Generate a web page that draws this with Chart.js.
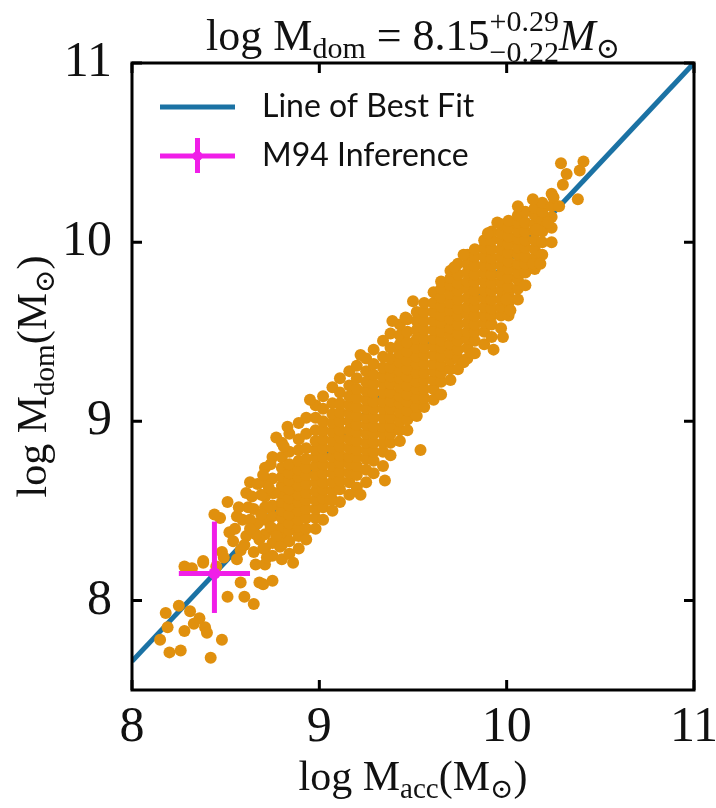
<!DOCTYPE html>
<html>
<head>
<meta charset="utf-8">
<script src="https://cdn.jsdelivr.net/npm/chart.js@4/dist/chart.umd.min.js"></script>
<style>
  html, body { margin: 0; padding: 0; background: #fff; }
  #wrap { width: 716px; height: 808px; position: relative; }
</style>
</head>
<body>
<div id="wrap"><canvas id="chart"></canvas></div>
<script>
// axis ranges and ticks
const xRange = [8, 11];
const yRange = [7.5, 11];
const xTickValues = [8, 9, 10, 11];
const yTickValues = [8, 9, 10, 11];

// line of best fit (two end points)
const fitAcc = [8, 11];
const fitDom = [7.66, 11.0];

// M94 inference with asymmetric errors
const m94Acc = 8.44;
const m94Dom = 8.15;
const m94AccErr = [0.19, 0.19];
const m94DomErr = [0.22, 0.29];

// simulated galaxies: dense band, read column by column (log M_acc, [log M_dom ...])
const cloudColumns = [
  [8.71, [8.20, 8.29, 8.37, 8.45, 8.52, 8.58, 8.66, 8.74]],
  [8.75, [8.25, 8.32, 8.40, 8.47, 8.53, 8.60, 8.68, 8.80]],
  [8.80, [8.23, 8.31, 8.36, 8.41, 8.46, 8.50, 8.55, 8.60, 8.64, 8.69, 8.74, 8.80, 8.88]],
  [8.84, [8.26, 8.33, 8.39, 8.43, 8.48, 8.53, 8.57, 8.62, 8.67, 8.71, 8.76, 8.83, 8.93]],
  [8.89, [8.29, 8.36, 8.41, 8.45, 8.50, 8.55, 8.59, 8.64, 8.69, 8.73, 8.78, 8.84, 8.90, 8.99]],
  [8.93, [8.34, 8.40, 8.46, 8.51, 8.56, 8.60, 8.65, 8.70, 8.74, 8.79, 8.85, 8.93, 9.02]],
  [8.98, [8.40, 8.46, 8.51, 8.56, 8.61, 8.66, 8.70, 8.75, 8.80, 8.84, 8.89, 8.95, 9.02, 9.09]],
  [9.02, [8.45, 8.52, 8.57, 8.62, 8.66, 8.71, 8.76, 8.80, 8.85, 8.90, 8.95, 9.00, 9.07, 9.14]],
  [9.07, [8.50, 8.56, 8.61, 8.66, 8.71, 8.75, 8.80, 8.85, 8.89, 8.94, 8.99, 9.04, 9.10, 9.19]],
  [9.11, [8.55, 8.62, 8.67, 8.72, 8.77, 8.81, 8.86, 8.91, 8.95, 9.00, 9.05, 9.10, 9.16, 9.24]],
  [9.16, [8.59, 8.66, 8.71, 8.76, 8.80, 8.85, 8.90, 8.95, 9.00, 9.04, 9.09, 9.14, 9.20, 9.28]],
  [9.20, [8.63, 8.70, 8.75, 8.80, 8.84, 8.89, 8.94, 8.98, 9.03, 9.08, 9.13, 9.18, 9.24, 9.31]],
  [9.25, [8.66, 8.73, 8.79, 8.84, 8.88, 8.93, 8.98, 9.02, 9.07, 9.12, 9.17, 9.22, 9.28, 9.35]],
  [9.29, [8.71, 8.78, 8.83, 8.88, 8.93, 8.97, 9.02, 9.07, 9.11, 9.16, 9.21, 9.26, 9.32, 9.40]],
  [9.34, [8.75, 8.83, 8.88, 8.93, 8.97, 9.02, 9.07, 9.11, 9.16, 9.21, 9.25, 9.30, 9.36, 9.45]],
  [9.38, [8.81, 8.88, 8.93, 8.97, 9.02, 9.07, 9.11, 9.16, 9.21, 9.25, 9.30, 9.35, 9.41, 9.49]],
  [9.43, [8.89, 8.95, 9.00, 9.05, 9.10, 9.14, 9.19, 9.24, 9.28, 9.33, 9.38, 9.43, 9.48, 9.54]],
  [9.47, [8.95, 9.01, 9.06, 9.11, 9.15, 9.20, 9.25, 9.29, 9.34, 9.39, 9.44, 9.50, 9.57]],
  [9.52, [9.03, 9.08, 9.13, 9.18, 9.22, 9.27, 9.32, 9.36, 9.41, 9.46, 9.51, 9.56, 9.61]],
  [9.56, [9.08, 9.13, 9.18, 9.23, 9.27, 9.32, 9.37, 9.41, 9.46, 9.51, 9.56, 9.61, 9.66]],
  [9.61, [9.12, 9.18, 9.23, 9.28, 9.32, 9.37, 9.42, 9.46, 9.51, 9.56, 9.61, 9.66, 9.72]],
  [9.65, [9.15, 9.22, 9.27, 9.31, 9.36, 9.41, 9.45, 9.50, 9.55, 9.59, 9.64, 9.69, 9.74, 9.78]],
  [9.70, [9.23, 9.29, 9.34, 9.38, 9.43, 9.48, 9.52, 9.57, 9.62, 9.66, 9.71, 9.76, 9.80, 9.84]],
  [9.74, [9.29, 9.35, 9.40, 9.45, 9.49, 9.54, 9.59, 9.63, 9.68, 9.73, 9.77, 9.82, 9.88]],
  [9.79, [9.35, 9.41, 9.46, 9.50, 9.55, 9.60, 9.64, 9.69, 9.74, 9.78, 9.83, 9.88, 9.93]],
  [9.83, [9.38, 9.45, 9.50, 9.54, 9.59, 9.64, 9.68, 9.73, 9.78, 9.82, 9.87, 9.92, 9.96]],
  [9.88, [9.43, 9.50, 9.55, 9.59, 9.64, 9.69, 9.73, 9.78, 9.83, 9.87, 9.92, 9.97, 10.01]],
  [9.92, [9.47, 9.54, 9.59, 9.63, 9.68, 9.73, 9.77, 9.82, 9.87, 9.91, 9.96, 10.01, 10.06]],
  [9.97, [9.52, 9.59, 9.64, 9.68, 9.73, 9.78, 9.82, 9.87, 9.92, 9.96, 10.01, 10.05, 10.10]],
  [10.01, [9.59, 9.66, 9.71, 9.75, 9.80, 9.85, 9.89, 9.94, 9.99, 10.03, 10.08, 10.12]],
  [10.06, [9.68, 9.74, 9.79, 9.83, 9.88, 9.93, 9.97, 10.02, 10.06, 10.11, 10.15]],
  [10.10, [9.76, 9.83, 9.88, 9.92, 9.97, 10.01, 10.06, 10.11, 10.17]],
  [10.15, [9.85, 9.91, 9.96, 10.01, 10.06, 10.10, 10.15, 10.19]],
  [10.19, [9.93, 10.00, 10.06, 10.12, 10.17, 10.22]],
  [10.24, [10.00, 10.08, 10.14, 10.20, 10.27]]
];

// low-mass tail around the M94 cross
const tailPoints = [
  [8.15, 7.78], [8.18, 7.93], [8.19, 7.85], [8.20, 7.71], [8.25, 7.97], [8.26, 7.72],
  [8.28, 7.83], [8.28, 8.19], [8.31, 7.94], [8.32, 8.18], [8.33, 7.87], [8.36, 7.90],
  [8.38, 8.22], [8.39, 7.85], [8.40, 7.82], [8.42, 7.68], [8.45, 8.19], [8.47, 8.46],
  [8.48, 7.78], [8.48, 8.27], [8.49, 8.24], [8.51, 8.55], [8.51, 8.02], [8.52, 8.38],
  [8.56, 8.47], [8.56, 8.23], [8.58, 8.28], [8.58, 8.10], [8.59, 8.45], [8.60, 8.02],
  [8.61, 8.60], [8.61, 8.36], [8.63, 8.66], [8.65, 7.98], [8.65, 8.51], [8.65, 8.27],
  [8.67, 8.43], [8.67, 8.65], [8.68, 8.34], [8.68, 8.10], [8.70, 8.09], [8.72, 8.52],
  [8.72, 8.24], [8.74, 8.41], [8.75, 8.11], [8.76, 8.60], [8.77, 8.36], [8.77, 8.91],
  [8.79, 8.30], [8.81, 8.86], [8.83, 8.97], [8.86, 8.21], [8.70, 8.70], [8.74, 8.76],
  [8.62, 8.52], [8.38, 8.21], [8.44, 8.48], [8.55, 8.40], [8.57, 8.52], [8.60, 8.31],
  [8.63, 8.45], [8.64, 8.58], [8.66, 8.37], [8.69, 8.48], [8.69, 8.59], [8.70, 8.29],
  [8.73, 8.63], [8.66, 8.20], [8.54, 8.33], [8.63, 8.40]
];

// scattered points along the edges of the band and the high-mass end
const edgePoints = [
  [8.95, 9.12], [9.06, 8.56], [9.22, 8.59], [9.22, 9.37], [9.35, 8.67], [9.39, 9.56],
  [9.46, 9.58], [9.50, 9.67], [9.54, 8.84], [9.72, 9.86], [9.77, 9.93], [9.77, 9.33],
  [9.82, 9.38], [9.90, 10.05], [9.93, 9.40], [9.95, 10.11], [9.98, 9.47], [10.00, 9.68],
  [10.02, 9.62], [10.06, 10.20], [10.14, 10.24], [10.14, 9.88], [10.18, 9.88], [10.16, 10.07],
  [10.22, 10.11], [10.25, 10.25], [10.28, 10.20], [10.30, 10.32], [10.29, 10.44], [10.32, 10.38],
  [10.38, 10.24], [10.39, 10.40], [10.41, 10.45]
];

const cloud = [];
cloudColumns.forEach(([x, ys]) => ys.forEach(y => cloud.push({ x: x, y: y })));
tailPoints.forEach(([x, y]) => cloud.push({ x: x, y: y }));
edgePoints.forEach(([x, y]) => cloud.push({ x: x, y: y }));

const BLUE = '#1b72a4';
const ORANGE = '#e0900e';
const MAGENTA = '#f01ee8';
const SERIF = '"Liberation Serif", "DejaVu Serif", serif';
const SANS = 'Lato, "Open Sans", sans-serif';

// draw a run of text pieces with sub/superscripts
function drawRich(ctx, parts, x, y) {
  const widths = parts.map(p => {
    ctx.font = `${p.italic ? 'italic ' : ''}${p.size}px ${SERIF}`;
    if (p.sup !== undefined) return Math.max(ctx.measureText(p.sup).width, ctx.measureText(p.sub).width);
    return ctx.measureText(p.t).width;
  });
  let cx = x - widths.reduce((a, b) => a + b, 0) / 2;
  ctx.textBaseline = 'alphabetic';
  ctx.textAlign = 'left';
  parts.forEach((p, i) => {
    ctx.font = `${p.italic ? 'italic ' : ''}${p.size}px ${SERIF}`;
    if (p.sup !== undefined) {
      ctx.fillText(p.sup, cx, y + p.supDy);
      ctx.fillText(p.sub, cx, y + p.subDy);
    } else {
      ctx.fillText(p.t, cx, y + (p.dy || 0));
    }
    cx += widths[i];
  });
}

const decorPlugin = {
  id: 'decor',
  afterDraw(chart) {
    const { ctx, chartArea: a, scales } = chart;
    ctx.save();
    ctx.fillStyle = '#111';

    // frame and inward ticks
    ctx.strokeStyle = '#000';
    ctx.lineWidth = 3;
    ctx.strokeRect(a.left, a.top, a.right - a.left, a.bottom - a.top);
    const tl = 10;
    ctx.beginPath();
    xTickValues.forEach(v => {
      const px = scales.x.getPixelForValue(v);
      ctx.moveTo(px, a.bottom); ctx.lineTo(px, a.bottom - tl);
      ctx.moveTo(px, a.top); ctx.lineTo(px, a.top + tl);
    });
    yTickValues.forEach(v => {
      const py = scales.y.getPixelForValue(v);
      ctx.moveTo(a.left, py); ctx.lineTo(a.left + tl, py);
      ctx.moveTo(a.right, py); ctx.lineTo(a.right - tl, py);
    });
    ctx.stroke();

    const midX = (a.left + a.right) / 2;
    const midY = (a.top + a.bottom) / 2;

    // title
    drawRich(ctx, [
      { t: 'log M', size: 44 },
      { t: 'dom', size: 30, dy: 8 },
      { t: ' = 8.15', size: 44 },
      { sup: '+0.29', sub: '\u22120.22', size: 30, supDy: -19, subDy: 12 },
      { t: 'M', size: 44, italic: true },
      { t: '\u2299', size: 29, dy: 8 }
    ], midX, 50);

    // x axis title
    drawRich(ctx, [
      { t: 'log M', size: 42 },
      { t: 'acc', size: 29, dy: 8 },
      { t: '(M', size: 42 },
      { t: '\u2299', size: 28, dy: 8 },
      { t: ')', size: 42 }
    ], midX, 790);

    // y axis title
    ctx.save();
    ctx.translate(46, midY);
    ctx.rotate(-Math.PI / 2);
    drawRich(ctx, [
      { t: 'log M', size: 42 },
      { t: 'dom', size: 29, dy: 8 },
      { t: '(M', size: 42 },
      { t: '\u2299', size: 28, dy: 8 },
      { t: ')', size: 42 }
    ], 0, 0);
    ctx.restore();

    // legend
    const lx0 = a.left + 28, lx1 = a.left + 103;
    ctx.lineWidth = 5;
    ctx.strokeStyle = BLUE;
    ctx.beginPath(); ctx.moveTo(lx0, 107); ctx.lineTo(lx1, 107); ctx.stroke();
    ctx.strokeStyle = MAGENTA;
    ctx.beginPath();
    ctx.moveTo(lx0, 156); ctx.lineTo(lx1, 156);
    ctx.moveTo((lx0 + lx1) / 2, 138); ctx.lineTo((lx0 + lx1) / 2, 173);
    ctx.stroke();
    ctx.fillStyle = MAGENTA;
    ctx.beginPath(); ctx.arc((lx0 + lx1) / 2, 156, 5, 0, Math.PI * 2); ctx.fill();
    ctx.fillStyle = '#111';
    ctx.font = `32px ${SANS}`;
    ctx.textBaseline = 'middle';
    ctx.textAlign = 'left';
    ctx.fillText('Line of Best Fit', a.left + 130, 107);
    ctx.fillText('M94 Inference', a.left + 130, 156);
    ctx.restore();
  }
};

new Chart(document.getElementById('chart'), {
  type: 'scatter',
  data: {
    datasets: [
      {
        label: 'M94 Inference',
        data: [{ x: m94Acc, y: m94Dom }],
        backgroundColor: MAGENTA,
        pointRadius: 6,
        borderWidth: 0,
        order: 0
      },
      {
        label: 'M94 x error',
        type: 'line',
        data: [{ x: m94Acc - m94AccErr[0], y: m94Dom }, { x: m94Acc + m94AccErr[1], y: m94Dom }],
        borderColor: MAGENTA,
        borderWidth: 5,
        pointRadius: 0,
        order: 0
      },
      {
        label: 'M94 y error',
        type: 'line',
        data: [{ x: m94Acc, y: m94Dom - m94DomErr[0] }, { x: m94Acc, y: m94Dom + m94DomErr[1] }],
        borderColor: MAGENTA,
        borderWidth: 5,
        pointRadius: 0,
        order: 0
      },
      {
        label: 'Simulated',
        data: cloud,
        backgroundColor: ORANGE,
        pointRadius: 6,
        borderWidth: 0,
        order: 1
      },
      {
        label: 'Line of Best Fit',
        type: 'line',
        data: fitAcc.map((x, i) => ({ x: x, y: fitDom[i] })),
        borderColor: BLUE,
        borderWidth: 5,
        pointRadius: 0,
        order: 2
      }
    ]
  },
  options: {
    responsive: true,
    maintainAspectRatio: false,
    animation: false,
    events: [],
    layout: { padding: { top: 63, right: 22, left: 0, bottom: 0 } },
    plugins: {
      legend: { display: false },
      tooltip: { enabled: false }
    },
    scales: {
      x: {
        type: 'linear',
        min: xRange[0],
        max: xRange[1],
        afterBuildTicks: s => { s.ticks = xTickValues.map(v => ({ value: v })); },
        afterFit: s => { s.height = 118; s.paddingLeft = 0; s.paddingRight = 0; },
        grid: { display: false, drawTicks: false },
        border: { display: false },
        ticks: {
          autoSkip: false,
          maxRotation: 0,
          padding: 8,
          color: '#111',
          font: { family: SERIF, size: 50 }
        }
      },
      y: {
        type: 'linear',
        min: yRange[0],
        max: yRange[1],
        afterBuildTicks: s => { s.ticks = yTickValues.map(v => ({ value: v })); },
        afterFit: s => { s.width = 132; },
        grid: { display: false, drawTicks: false },
        border: { display: false },
        ticks: {
          autoSkip: false,
          padding: 20,
          color: '#111',
          font: { family: SERIF, size: 50 }
        }
      }
    }
  },
  plugins: [decorPlugin]
});
</script>
</body>
</html>
